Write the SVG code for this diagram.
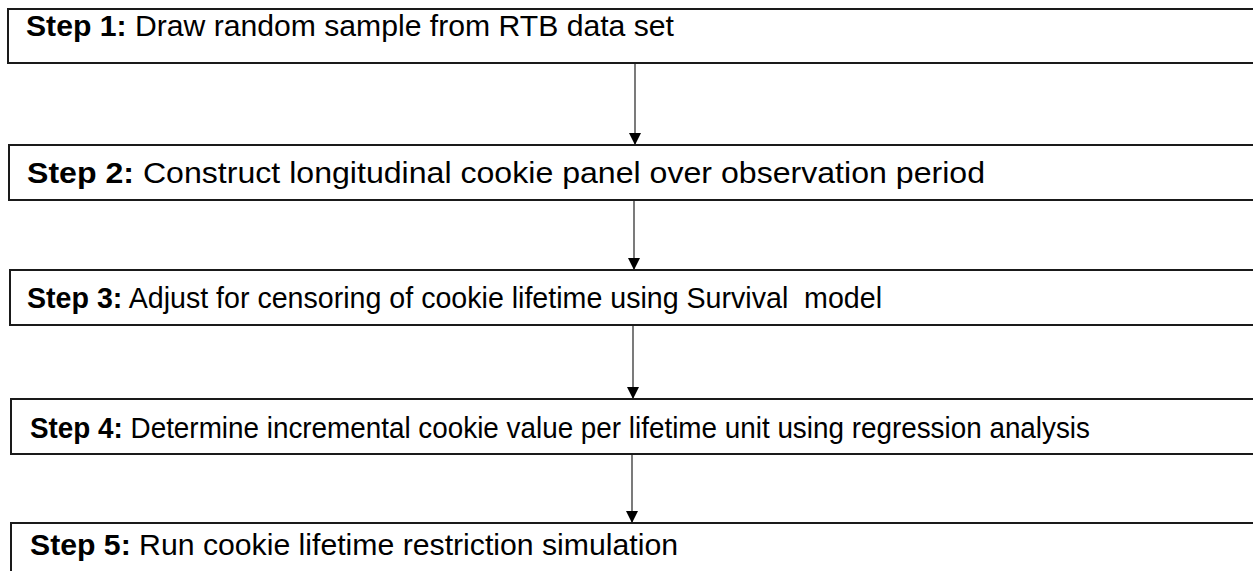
<svg xmlns="http://www.w3.org/2000/svg" width="1253" height="571" viewBox="0 0 1253 571">
<style>
.box{fill:#fff;stroke:#1a1a1a;stroke-width:2}
.t{font-family:"Liberation Sans",Arial,sans-serif;font-size:29px;fill:#000}
.b{font-weight:bold}
.c{stroke:#222;stroke-width:1.2;fill:none}
</style>
<defs>
<marker id="ah" markerWidth="12" markerHeight="12" refX="12" refY="6" orient="auto" markerUnits="userSpaceOnUse">
<path d="M0,0 L12,6 L0,12 Z" fill="#000"/>
</marker>
</defs>
<rect width="1253" height="571" fill="#fff"/>
<g id="connectors">
<line class="c" x1="635" y1="63" x2="635" y2="145" marker-end="url(#ah)"/>
<line class="c" x1="634" y1="200" x2="634" y2="270" marker-end="url(#ah)"/>
<line class="c" x1="633" y1="325" x2="633" y2="399" marker-end="url(#ah)"/>
<line class="c" x1="632" y1="454" x2="632" y2="523" marker-end="url(#ah)"/>
</g>
<g id="step1"><rect class="box" x="8" y="9" width="1260" height="54"/><text class="t" x="26" y="36" textLength="648" lengthAdjust="spacingAndGlyphs"><tspan class="b">Step 1:</tspan> Draw random sample from RTB data set</text></g>
<g id="step2"><rect class="box" x="9" y="145" width="1260" height="55"/><text class="t" x="27" y="183" textLength="958" lengthAdjust="spacingAndGlyphs"><tspan class="b">Step 2:</tspan> Construct longitudinal cookie panel over observation period</text></g>
<g id="step3"><rect class="box" x="10" y="270" width="1260" height="55"/><text class="t" x="27" y="308" textLength="855" lengthAdjust="spacingAndGlyphs"><tspan class="b">Step 3:</tspan> Adjust for censoring of cookie lifetime using Survival&#160; model</text></g>
<g id="step4"><rect class="box" x="11" y="399" width="1260" height="55"/><text class="t" x="30" y="438" textLength="1060" lengthAdjust="spacingAndGlyphs"><tspan class="b">Step 4:</tspan> Determine incremental cookie value per lifetime unit using regression analysis</text></g>
<g id="step5"><rect class="box" x="11" y="523" width="1260" height="60"/><text class="t" x="30" y="555" textLength="648" lengthAdjust="spacingAndGlyphs"><tspan class="b">Step 5:</tspan> Run cookie lifetime restriction simulation</text></g>
</svg>
